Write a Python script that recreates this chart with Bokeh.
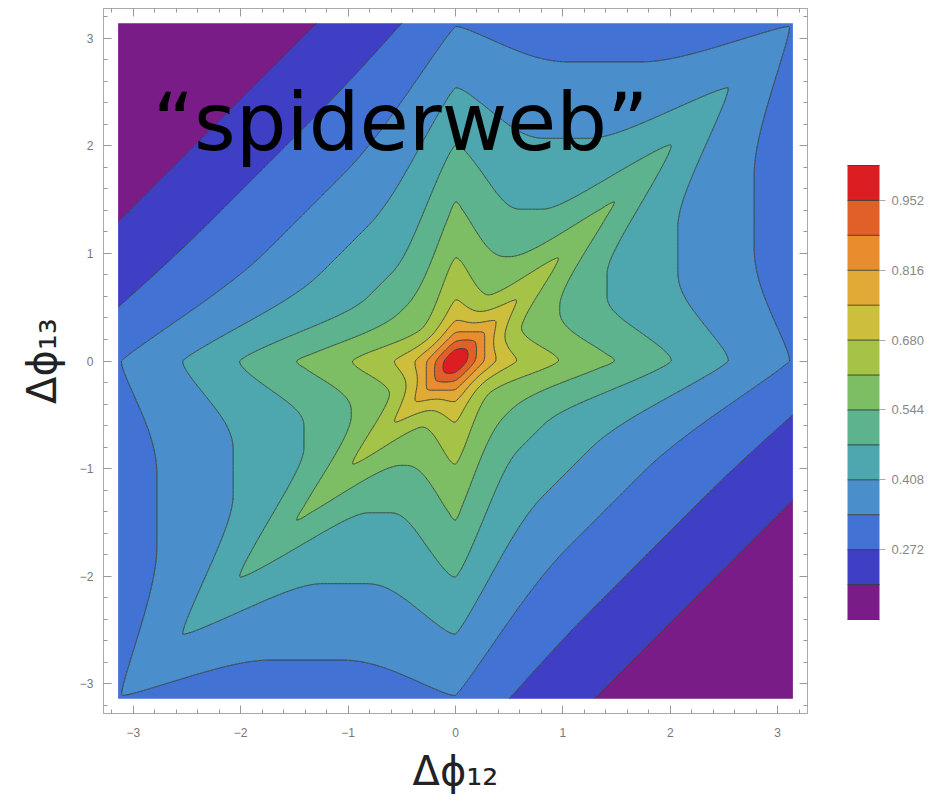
import numpy as np
from bokeh.plotting import figure
from bokeh.models import (FixedTicker, PrintfTickFormatter, LinearAxis, Label, Range1d)
from bokeh.embed import file_html
from bokeh.resources import INLINE

PI = np.pi

# ---- chart values ----
levels = [0.136, 0.204, 0.272, 0.340, 0.408, 0.476, 0.544, 0.612,
          0.680, 0.748, 0.816, 0.884, 0.952, 1.020]
band_colors = ["#7A1C87", "#3F3FC6", "#4272D4", "#4A8FCB", "#4EA6AE",
               "#5CB38E", "#7DBE64", "#A5C346", "#CDBE3C", "#E1AA37",
               "#E88C2D", "#E15F28", "#DC1E23"]
cbar_ticks = [0.272, 0.408, 0.544, 0.680, 0.816, 0.952]
axis_ticks = [-3, -2, -1, 0, 1, 2, 3]

# span (largest phase gap) where each contour lies furthest in, between two arms
interior_level = [0.612, 0.544, 0.476, 0.408, 0.340, 0.272, 0.204]
interior_span = [0.59, 0.97, 1.41, 2.07, 2.78, 3.58, 4.43]
# arm tips of each contour, read on the Δφ13 = 0 axis
tip_level = [0.680, 0.612, 0.544, 0.476, 0.408, 0.340]
tip_span = [0.57, 0.96, 1.48, 2.01, 2.54, 3.11]
# inner ellipses on the axis: 0.952@0.08 0.884@0.18 0.816@0.27 0.748@0.38
peak_value = 1.0        # at Δφ12 = Δφ13 = 0
base_at_centre = 0.82   # background level under the central peak
peak_width2 = 0.13      # squared width of the central peak
corner_value = 0.15     # purple corners (Δφ12, Δφ13) = (-π, π), (π, -π)
ridge_end_span = 4.0    # the arms fade out beyond this span
arm_w0, arm_k = 0.08, 0.33   # arm half-width = arm_w0 + arm_k * span
tip_round = 0.07


def arm_width(span):
    return arm_w0 + arm_k * span


def background(span):
    return np.interp(span, [0.0] + interior_span + [2 * PI],
                     [base_at_centre] + interior_level + [corner_value])


def centre_peak(sq):
    return (peak_value - base_at_centre) * np.exp(-sq / peak_width2)


def arm_profile(g, span):
    gs = np.sqrt(g ** 2 + tip_round ** 2) - tip_round
    t = np.clip(gs / arm_width(span), 0.0, 1.0)
    return (1.0 - t) ** 2


tip_span_a = np.array(tip_span)
tip_amp = (np.array(tip_level) - background(tip_span_a)
           - centre_peak(2 * tip_span_a ** 2))
amp_span = [0.0] + tip_span + [ridge_end_span]
amp_val = [0.0] + list(tip_amp) + [0.0]


def web(x, y):
    gaps = [np.abs(x), np.abs(y), np.abs(y - x)]
    span = (gaps[0] + gaps[1] + gaps[2]) / 2
    arms = sum(arm_profile(g, span) for g in gaps)
    sq = gaps[0] ** 2 + gaps[1] ** 2 + gaps[2] ** 2
    return (background(span) + np.interp(span, amp_span, amp_val) * arms
            + centre_peak(sq))


xs = np.linspace(-PI, PI, 481)
ys = np.linspace(-PI, PI, 481)
X, Y = np.meshgrid(xs, ys)
Z = np.clip(web(X, Y), levels[0] + 0.002, levels[-1] - 0.002)

pad = 0.136
p = figure(width=947, height=804,
           x_range=Range1d(-PI - pad, PI + pad), y_range=Range1d(-PI - pad, PI + pad),
           output_backend="svg", toolbar_location=None,
           min_border_left=103, min_border_right=140, min_border_top=8, min_border_bottom=91)
p.grid.visible = False
p.outline_line_color = "#aaaaaa"
p.background_fill_color = "white"
p.border_fill_color = "white"

cr = p.contour(xs, ys, Z, levels=levels, fill_color=band_colors,
               line_color="#263026", line_alpha=0.8, line_width=1.0)

minor = [round(v, 1) for v in np.arange(-3.2, 3.21, 0.2)]


def style_axis(ax, show_labels=True):
    ax.ticker = FixedTicker(ticks=axis_ticks, minor_ticks=minor)
    ax.major_tick_in = 8
    ax.major_tick_out = 0
    ax.minor_tick_in = 4
    ax.minor_tick_out = 0
    ax.major_tick_line_color = "#999999"
    ax.minor_tick_line_color = "#999999"
    ax.axis_line_color = "#aaaaaa"
    ax.major_label_text_font = "Liberation Sans"
    if show_labels:
        ax.major_label_text_font_size = "12px"
        ax.major_label_text_color = "#777777"
    else:
        ax.major_label_text_font_size = "1px"
        ax.major_label_text_color = None
        ax.major_label_standoff = 0


for ax in p.xaxis:
    style_axis(ax)
    ax.major_label_standoff = 14
    ax.axis_label = "Δϕ₁₂"
    ax.axis_label_text_font = "DejaVu Sans"
    ax.axis_label_text_font_style = "normal"
    ax.axis_label_text_font_size = "40px"
    ax.axis_label_text_color = "#222222"
    ax.axis_label_standoff = 8
for ax in p.yaxis:
    style_axis(ax)
    ax.major_label_standoff = 10
    ax.axis_label = "Δϕ₁₃"
    ax.axis_label_text_font = "DejaVu Sans"
    ax.axis_label_text_font_style = "normal"
    ax.axis_label_text_font_size = "40px"
    ax.axis_label_text_color = "#222222"
    ax.axis_label_standoff = 12

top_ax = LinearAxis()
style_axis(top_ax, show_labels=False)
p.add_layout(top_ax, "above")
right_ax = LinearAxis()
style_axis(right_ax, show_labels=False)
p.add_layout(right_ax, "right")

cb = cr.construct_color_bar(width=32, height=454,
                            major_label_text_font="Liberation Sans",
                            major_label_text_font_size="13px",
                            major_label_text_color="#888888",
                            major_tick_out=6, major_tick_in=0,
                            major_tick_line_color="#aaaaaa",
                            bar_line_color="#888888",
                            label_standoff=6, padding=0, margin=0,
                            location=(40, 94))
cb.ticker = FixedTicker(ticks=cbar_ticks)
cb.formatter = PrintfTickFormatter(format="%.3f")
p.add_layout(cb, "right")

p.add_layout(Label(x=-2.82, y=2.215, text="\u201cspiderweb\u201d",
                   text_font="DejaVu Sans", text_font_size="80px",
                   text_color="black", text_baseline="alphabetic"))

open("out.html", "w").write(file_html(p, INLINE))
